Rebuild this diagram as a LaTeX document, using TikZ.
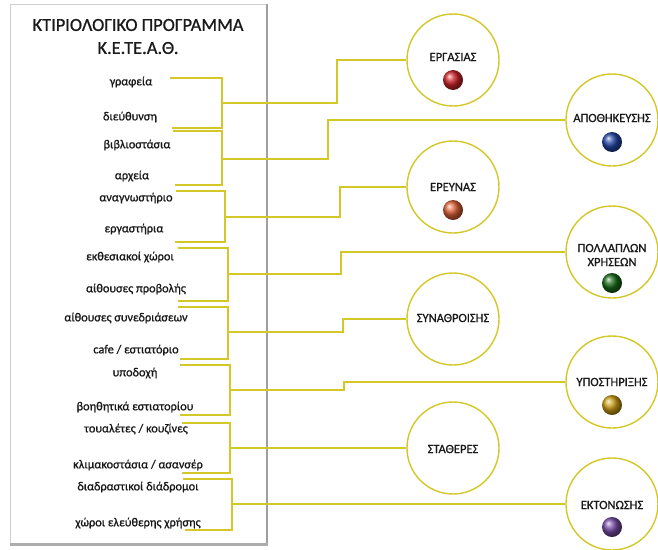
\documentclass[tikz,border=0pt]{standalone}
\usepackage{fontspec}
\setmainfont{Carlito}
\newfontfamily\medfont{Carlito}[FakeBold=0.9]
\usetikzlibrary{calc}
\definecolor{linecol}{RGB}{212,200,40}
\definecolor{bred}{RGB}{205,35,40}
\definecolor{bblue}{RGB}{35,70,165}
\definecolor{borange}{RGB}{220,95,55}
\definecolor{bgreen}{RGB}{25,105,25}
\definecolor{bgold}{RGB}{200,155,20}
\definecolor{bpurple}{RGB}{120,75,165}
\begin{document}
\begin{tikzpicture}[x=1pt,y=-1pt,
  link/.style={draw=linecol,line width=1.3pt},
  titletext/.style={font=\medfont\fontsize{18.4}{20}\selectfont,text=black!90,inner sep=0pt},
  item/.style={font=\medfont\fontsize{12.3}{14}\selectfont,text=black!90,inner sep=0pt},
  zone/.style={circle,draw=linecol,line width=1.4pt,minimum size=92pt,inner sep=0pt,fill=white},
  zlabel/.style={font=\medfont\fontsize{12.5}{14}\selectfont,text=black!90,inner sep=0pt,align=center},
  ballnode/.style={circle,minimum size=20pt,inner sep=0pt,ball color=#1}]
\useasboundingbox (0,0) rectangle (658,549);
\fill[white] (0,0) rectangle (658,549);
% panel
\draw[gray!35,fill=white] (10,4) rectangle (266,543);
\draw[gray!75,line width=2pt] (267,4) -- (267,544);
\draw[gray!65,line width=2.5pt] (10,544.5) -- (268,544.5);
% title
\node[titletext] (t1) at (138,25) {ΚΤΙΡΙΟΛΟΓΙΚΟ ΠΡΟΓΡΑΜΜΑ};
\node[titletext] (t2) at (138,48) {Κ.Ε.ΤΕ.Α.Θ.};
% items
\node[item] (i1) at (131,82) {γραφεία};
\node[item] (i2) at (130,117) {διεύθυνση};
\node[item] (i3) at (137,145) {βιβλιοστάσια};
\node[item] (i4) at (132,176) {αρχεία};
\node[item] (i5) at (136,198) {αναγνωστήριο};
\node[item] (i6) at (134,229) {εργαστήρια};
\node[item] (i7) at (130,257) {εκθεσιακοί χώροι};
\node[item] (i8) at (136,289) {αίθουσες προβολής};
\node[item] (i9) at (126,318) {αίθουσες συνεδριάσεων};
\node[item] (i10) at (136,350) {cafe / εστιατόριο};
\node[item] (i11) at (135,373) {υποδοχή};
\node[item] (i12) at (135,407) {βοηθητικά εστιατορίου};
\node[item] (i13) at (136,429) {τουαλέτες / κουζίνες};
\node[item] (i14) at (138,465) {κλιμακοστάσια / ασανσέρ};
\node[item] (i15) at (138,487) {διαδραστικοί διάδρομοι};
\node[item] (i16) at (138,523) {χώροι ελεύθερης χρήσης};
% circles
\node[zone] (c1) at (453,60) {};
\node[zone] (c2) at (612,120) {};
\node[zone] (c3) at (453,187) {};
\node[zone] (c4) at (612,252) {};
\node[zone] (c5) at (453,319) {};
\node[zone] (c6) at (612,382) {};
\node[zone] (c7) at (453,448) {};
\node[zone] (c8) at (612,504) {};
% bracket coordinates
\coordinate (ta) at (170,78);  \coordinate (ba) at (172,128); \coordinate (ja) at (222,103); \coordinate (ma) at (337,103);
\coordinate (tb) at (173,131); \coordinate (bb) at (175,185); \coordinate (jb) at (222,159); \coordinate (mb) at (328,159);
\coordinate (tc) at (176,191); \coordinate (bc) at (175,242); \coordinate (jc) at (225,217); \coordinate (mc) at (340,217);
\coordinate (td) at (178,248); \coordinate (bd) at (178,301); \coordinate (jd) at (228,274); \coordinate (md) at (341,274);
\coordinate (te) at (178,307); \coordinate (be) at (180,359); \coordinate (je) at (228,332); \coordinate (me) at (343,332);
\coordinate (tf) at (180,365); \coordinate (bf) at (180,415); \coordinate (jf) at (230,390); \coordinate (mf) at (344,390);
\coordinate (tg) at (182,423); \coordinate (bg) at (182,473); \coordinate (jg) at (230,448);
\coordinate (th) at (183,479); \coordinate (bh) at (185,530); \coordinate (jh) at (232,504);
% brackets
\foreach \k in {a,b,c,d,e,f,g,h}{
  \draw[link] (t\k) -| (j\k) |- (b\k);
}
% branches
\draw[link] (ja) -- (ma) |- (c1.west);
\draw[link] (jb) -- (mb) |- (c2.west);
\draw[link] (jc) -- (mc) |- (c3.west);
\draw[link] (jd) -- (md) |- (c4.west);
\draw[link] (je) -- (me) |- (c5.west);
\draw[link] (jf) -- (mf) |- (c6.west);
\draw[link] (jg) -- (c7.west);
\draw[link] (jh) -- (c8.west);
% circle contents
\node[zlabel] (l1) at (453,57) {ΕΡΓΑΣΙΑΣ};
\node[ballnode=bred] (p1) at (453,80) {};
\node[zlabel] (l2) at (612,118) {ΑΠΟΘΗΚΕΥΣΗΣ};
\node[ballnode=bblue] (p2) at (612,142) {};
\node[zlabel] (l3) at (453,187) {ΕΡΕΥΝΑΣ};
\node[ballnode=borange] (p3) at (453,210) {};
\node[zlabel] (l4) at (612,255) {ΠΟΛΛΑΠΛΩΝ\\ΧΡΗΣΕΩΝ};
\node[ballnode=bgreen] (p4) at (612,283) {};
\node[zlabel] (l5) at (453,318) {ΣΥΝΑΘΡΟΙΣΗΣ};
\node[zlabel] (l6) at (612,382) {ΥΠΟΣΤΗΡΙΞΗΣ};
\node[ballnode=bgold] (p6) at (612,405) {};
\node[zlabel] (l7) at (453,449) {ΣΤΑΘΕΡΕΣ};
\node[zlabel] (l8) at (612,505) {ΕΚΤΟΝΩΣΗΣ};
\node[ballnode=bpurple] (p8) at (612,527) {};
\end{tikzpicture}
\end{document}
